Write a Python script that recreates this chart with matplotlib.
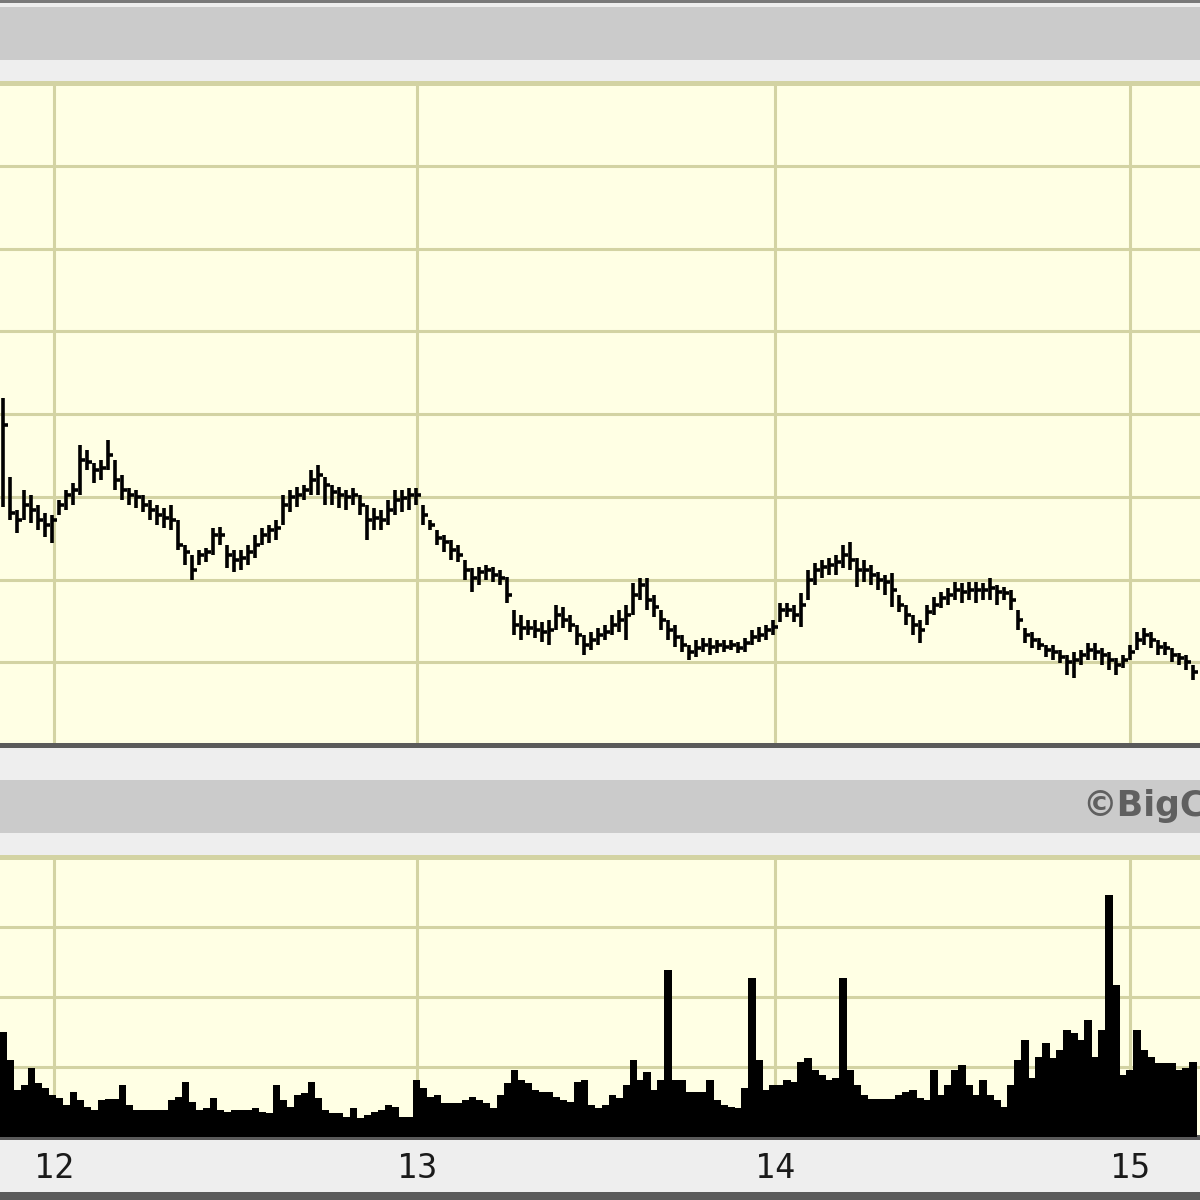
import numpy as np
import matplotlib
matplotlib.use("Agg")
import matplotlib.pyplot as plt
from matplotlib.patches import Rectangle

# weekly bars
high = [14.19, 13.24, 12.84, 13.08, 13.02, 12.90, 12.80, 12.78, 12.96, 13.08,
        13.17, 13.63, 13.57, 13.41, 13.44, 13.69, 13.44, 13.26, 13.11, 13.08,
        13.02, 12.96, 12.90, 12.86, 12.90, 12.72, 12.42, 12.30, 12.36, 12.38,
        12.62, 12.63, 12.42, 12.36, 12.36, 12.42, 12.54, 12.62, 12.66, 12.72,
        13.02, 13.08, 13.12, 13.14, 13.32, 13.38, 13.24, 13.14, 13.12, 13.08,
        13.11, 13.02, 12.90, 12.86, 12.84, 12.96, 13.08, 13.08, 13.11, 13.11,
        12.90, 12.72, 12.60, 12.54, 12.48, 12.42, 12.24, 12.14, 12.15, 12.18,
        12.15, 12.11, 12.03, 11.63, 11.57, 11.51, 11.51, 11.49, 11.51, 11.69,
        11.67, 11.57, 11.45, 11.33, 11.37, 11.41, 11.45, 11.57, 11.63, 11.69,
        11.96, 12.02, 12.02, 11.81, 11.63, 11.51, 11.45, 11.33, 11.21, 11.27,
        11.29, 11.29, 11.27, 11.27, 11.27, 11.24, 11.29, 11.39, 11.43, 11.45,
        11.51, 11.72, 11.72, 11.69, 11.84, 12.11, 12.20, 12.24, 12.26, 12.30,
        12.42, 12.45, 12.26, 12.24, 12.18, 12.09, 12.05, 12.08, 11.81, 11.69,
        11.57, 11.51, 11.69, 11.79, 11.85, 11.90, 11.97, 11.96, 11.97, 11.97,
        11.96, 12.02, 11.93, 11.91, 11.87, 11.63, 11.41, 11.37, 11.29, 11.21,
        11.21, 11.15, 11.09, 11.12, 11.15, 11.23, 11.23, 11.17, 11.12, 11.05,
        11.09, 11.21, 11.37, 11.41, 11.37, 11.27, 11.24, 11.17, 11.11, 11.09,
        10.97]
low = [12.88, 12.72, 12.56, 12.72, 12.68, 12.60, 12.51, 12.44, 12.78, 12.84,
       12.90, 13.02, 13.32, 13.17, 13.20, 13.32, 13.08, 12.96, 12.90, 12.86,
       12.82, 12.72, 12.66, 12.62, 12.60, 12.36, 12.18, 11.99, 12.18, 12.21,
       12.30, 12.42, 12.14, 12.09, 12.11, 12.18, 12.26, 12.42, 12.44, 12.48,
       12.66, 12.82, 12.88, 12.96, 13.02, 13.02, 12.90, 12.90, 12.86, 12.84,
       12.90, 12.78, 12.48, 12.60, 12.60, 12.66, 12.78, 12.82, 12.84, 12.90,
       12.66, 12.60, 12.42, 12.33, 12.24, 12.21, 11.99, 11.85, 11.93, 11.99,
       11.97, 11.93, 11.72, 11.33, 11.27, 11.33, 11.29, 11.24, 11.21, 11.39,
       11.41, 11.37, 11.21, 11.09, 11.15, 11.21, 11.27, 11.33, 11.37, 11.27,
       11.57, 11.75, 11.63, 11.55, 11.39, 11.27, 11.18, 11.12, 11.03, 11.06,
       11.12, 11.09, 11.11, 11.12, 11.15, 11.11, 11.12, 11.21, 11.24, 11.27,
       11.33, 11.49, 11.55, 11.49, 11.43, 11.75, 11.93, 12.02, 12.05, 12.05,
       12.14, 12.11, 11.91, 11.97, 11.93, 11.87, 11.81, 11.67, 11.61, 11.45,
       11.33, 11.23, 11.45, 11.57, 11.66, 11.69, 11.75, 11.72, 11.75, 11.72,
       11.75, 11.75, 11.69, 11.75, 11.63, 11.39, 11.23, 11.17, 11.15, 11.06,
       11.03, 10.99, 10.85, 10.81, 10.97, 11.03, 11.03, 10.97, 10.91, 10.85,
       10.93, 11.03, 11.15, 11.21, 11.17, 11.09, 11.09, 11.00, 10.97, 10.91,
       10.79]
close = [13.87, 12.80, 12.72, 12.90, 12.84, 12.72, 12.66, 12.72, 12.90, 13.02,
         13.08, 13.44, 13.42, 13.32, 13.35, 13.50, 13.20, 13.08, 13.02, 13.00,
         12.90, 12.84, 12.78, 12.74, 12.72, 12.42, 12.33, 12.11, 12.30, 12.33,
         12.54, 12.54, 12.30, 12.24, 12.26, 12.33, 12.42, 12.54, 12.60, 12.62,
         12.90, 13.00, 13.02, 13.08, 13.20, 13.26, 13.14, 13.06, 13.02, 13.00,
         13.02, 12.90, 12.72, 12.74, 12.72, 12.84, 12.96, 12.98, 13.02, 13.02,
         12.78, 12.66, 12.50, 12.45, 12.36, 12.30, 12.11, 12.02, 12.09, 12.11,
         12.05, 12.02, 11.81, 11.45, 11.41, 11.41, 11.39, 11.37, 11.39, 11.57,
         11.51, 11.45, 11.33, 11.21, 11.27, 11.33, 11.37, 11.45, 11.51, 11.57,
         11.81, 11.93, 11.75, 11.67, 11.51, 11.39, 11.31, 11.21, 11.12, 11.17,
         11.21, 11.18, 11.21, 11.18, 11.21, 11.17, 11.23, 11.31, 11.33, 11.39,
         11.43, 11.63, 11.63, 11.57, 11.69, 11.99, 12.11, 12.15, 12.18, 12.21,
         12.30, 12.24, 12.11, 12.11, 12.05, 11.99, 11.97, 11.87, 11.69, 11.57,
         11.45, 11.39, 11.61, 11.69, 11.78, 11.81, 11.87, 11.85, 11.87, 11.87,
         11.87, 11.90, 11.85, 11.84, 11.75, 11.51, 11.33, 11.27, 11.21, 11.15,
         11.12, 11.06, 11.00, 11.03, 11.09, 11.15, 11.12, 11.09, 11.03, 10.97,
         11.03, 11.12, 11.27, 11.33, 11.27, 11.18, 11.17, 11.09, 11.05, 11.00,
         10.88]
volume = [1.50, 1.10, 0.67, 0.74, 0.99, 0.77, 0.70, 0.60, 0.56, 0.46,
          0.64, 0.53, 0.43, 0.39, 0.53, 0.54, 0.54, 0.74, 0.46, 0.39,
          0.39, 0.39, 0.39, 0.39, 0.53, 0.57, 0.79, 0.50, 0.39, 0.41,
          0.56, 0.39, 0.36, 0.39, 0.39, 0.39, 0.41, 0.36, 0.34, 0.74,
          0.53, 0.43, 0.60, 0.63, 0.79, 0.56, 0.39, 0.34, 0.34, 0.29,
          0.41, 0.27, 0.31, 0.36, 0.39, 0.46, 0.43, 0.29, 0.29, 0.81,
          0.70, 0.57, 0.60, 0.49, 0.49, 0.49, 0.53, 0.57, 0.53, 0.49,
          0.41, 0.60, 0.77, 0.96, 0.81, 0.77, 0.67, 0.64, 0.64, 0.57,
          0.53, 0.50, 0.79, 0.81, 0.46, 0.41, 0.46, 0.60, 0.56, 0.74,
          1.10, 0.81, 0.93, 0.67, 0.81, 2.39, 0.81, 0.81, 0.64, 0.64,
          0.64, 0.81, 0.53, 0.46, 0.43, 0.41, 0.70, 2.27, 1.10, 0.67,
          0.74, 0.74, 0.81, 0.79, 1.07, 1.13, 0.96, 0.89, 0.81, 0.84,
          2.27, 0.96, 0.74, 0.60, 0.54, 0.54, 0.54, 0.54, 0.60, 0.64,
          0.67, 0.56, 0.53, 0.96, 0.60, 0.74, 0.96, 1.03, 0.74, 0.60,
          0.81, 0.60, 0.53, 0.43, 0.74, 1.10, 1.39, 0.84, 1.14, 1.34,
          1.13, 1.24, 1.53, 1.49, 1.39, 1.67, 1.14, 1.53, 3.46, 2.17,
          0.89, 0.96, 1.53, 1.24, 1.14, 1.06, 1.06, 1.06, 0.96, 0.99,
          1.07]
year_labels = ["12", "13", "14", "15"]
year_pos = [7.3, 59.1, 110.3, 161.0]   # bar index where each year starts

x = np.arange(len(high))

BG = "#ffffe4"
GRID = "#d3d3a3"
BAND = "#cbcbcb"
LIGHT = "#eeeeee"
DARK = "#5a5a5a"

fig = plt.figure(figsize=(12, 12), dpi=100, facecolor=LIGHT)

def band(top, bottom, color):
    # rows in pixels from the top of the picture
    fig.add_artist(Rectangle((0, 1 - bottom / 1200), 1, (bottom - top) / 1200,
                             transform=fig.transFigure, color=color, lw=0, zorder=0))

band(0, 3, "#7a7a7a")
band(7, 60, BAND)
band(780, 833, BAND)
band(1192, 1200, DARK)

def panel(rect):
    ax = fig.add_axes(rect)
    ax.set_facecolor(BG)
    ax.set_xlim(-0.45, 171.0)
    ax.set_xticks(year_pos)
    ax.grid(True, color=GRID, lw=2.2)
    ax.set_axisbelow(True)
    ax.tick_params(left=False, labelleft=False, length=0)
    ax.spines["left"].set_visible(False)
    ax.spines["right"].set_visible(False)
    ax.spines["top"].set_color(GRID)
    ax.spines["top"].set_linewidth(3.6)
    ax.spines["bottom"].set_color(DARK)
    ax.spines["bottom"].set_linewidth(3.6)
    return ax

# price panel
ax = panel([0, 1 - 745 / 1200, 1, 662 / 1200])
ax.set_ylim(10, 18)
ax.set_yticks(range(11, 18))
ax.tick_params(labelbottom=False)
ax.vlines(x, low, high, colors="black", lw=2.6, zorder=3)
ax.hlines(close, x, x + 0.65, colors="black", lw=2.6, zorder=3)

fig.text(1082 / 1200, 1 - 806 / 1200, "\u00a9BigCharts", ha="left", va="center",
         fontsize=25, fontweight="bold", color="#606060", family="DejaVu Sans")

# volume panel
axv = panel([0, 1 - 1137 / 1200, 1, 280 / 1200])
axv.set_ylim(0, 4)
axv.set_yticks([1, 2, 3])
axv.bar(x, volume, width=1.02, color="black", lw=0, zorder=3)
axv.set_xticklabels(year_labels, fontsize=24, family="DejaVu Sans Mono", color="#1a1a1a")
axv.tick_params(axis="x", pad=11)

fig.savefig("out.png", dpi=100, facecolor=LIGHT)
